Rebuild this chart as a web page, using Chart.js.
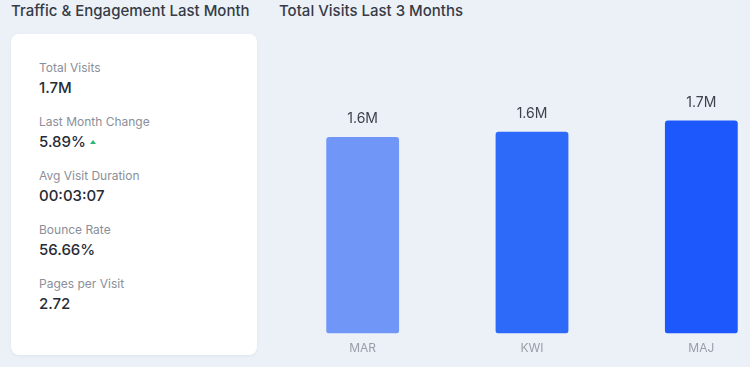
<!DOCTYPE html>
<html>
<head>
<meta charset="utf-8">
<script src="https://cdn.jsdelivr.net/npm/chart.js@4.4.1/dist/chart.umd.min.js"></script>
<style>
  html, body { margin: 0; padding: 0; }
  body {
    width: 750px; height: 367px; overflow: hidden; position: relative;
    background: #ecf1f8;
    font-family: Inter, "Open Sans", sans-serif;
  }
  .title { position: absolute; top: 1px; font-size: 15px; font-weight: 500; color: #363b46; white-space: nowrap; }
  #leftTitle { left: 11px; }
  #rightTitle { left: 279px; }
  .card {
    position: absolute; left: 11px; top: 34px; width: 246px; height: 321px;
    background: #fff; border-radius: 8px;
    box-shadow: 0 1px 3px rgba(120,140,180,0.12);
  }
  .metric { position: absolute; left: 28px; }
  .metric .lbl { font-size: 12px; color: #8a8f99; line-height: 15px; }
  .metric .val { font-size: 15px; color: #262b36; font-weight: 500; line-height: 20px; margin-top: 3px; }
  .up { display: inline-block; width: 0; height: 0; border-left: 3.5px solid transparent; border-right: 3.5px solid transparent; border-bottom: 4px solid #2bb673; margin-left: 4px; vertical-align: 3px; }
  #wrap { position: absolute; left: 278px; top: 60px; width: 508px; height: 307px; }
</style>
</head>
<body>
<div class="title" id="leftTitle">Traffic &amp; Engagement Last Month</div>
<div class="title" id="rightTitle">Total Visits Last 3 Months</div>
<div class="card" id="card"></div>
<div id="wrap"><canvas id="visitsChart"></canvas></div>
<script>
// card metrics
var metricLabels = ["Total Visits", "Last Month Change", "Avg Visit Duration", "Bounce Rate", "Pages per Visit"];
var metricValues = ["1.7M", "5.89%", "00:03:07", "56.66%", "2.72"];

// bar chart data (millions)
var months = ["MAR", "KWI", "MAJ"];
var visits = [1.57, 1.61, 1.70];
var barColors = ["#7096f8", "#2d6afa", "#1c58fb"];

var card = document.getElementById("card");
for (var i = 0; i < metricLabels.length; i++) {
  var m = document.createElement("div");
  m.className = "metric";
  m.style.top = (26 + i * 54) + "px";
  var extra = i == 1 ? '<span class="up"></span>' : '';
  m.innerHTML = '<div class="lbl">' + metricLabels[i] + '</div><div class="val">' + metricValues[i] + extra + '</div>';
  card.appendChild(m);
}

// draws "1.6M" above each bar
const valueLabels = {
  id: 'valueLabels',
  afterDatasetsDraw(chart) {
    const ctx = chart.ctx;
    const meta = chart.getDatasetMeta(0);
    ctx.save();
    ctx.font = '14px Inter, "Open Sans", sans-serif';
    ctx.fillStyle = '#3d424c';
    ctx.textAlign = 'center';
    ctx.textBaseline = 'bottom';
    meta.data.forEach(function (bar, idx) {
      ctx.fillText(visits[idx].toFixed(1) + 'M', bar.x, bar.y - 11);
    });
    ctx.restore();
  }
};

var ctx = document.getElementById("visitsChart");
const visitsChart = new Chart(ctx, {
  type: 'bar',
  data: {
    labels: months,
    datasets: [{
      data: visits,
      backgroundColor: barColors,
      borderRadius: 3,
      borderSkipped: false,
      barPercentage: 0.86,
      categoryPercentage: 0.5
    }]
  },
  options: {
    responsive: true,
    maintainAspectRatio: false,
    animation: false,
    layout: { padding: { top: 23, left: 0, right: 0, bottom: 3 } },
    plugins: { legend: { display: false }, tooltip: { enabled: false } },
    scales: {
      x: {
        grid: { display: false, drawTicks: false },
        border: { display: false },
        ticks: { color: '#9a9ea6', padding: 8, font: { family: 'Inter', size: 12 } }
      },
      y: {
        display: false,
        beginAtZero: true,
        max: 2.0
      }
    }
  },
  plugins: [valueLabels]
});
</script>
</body>
</html>
